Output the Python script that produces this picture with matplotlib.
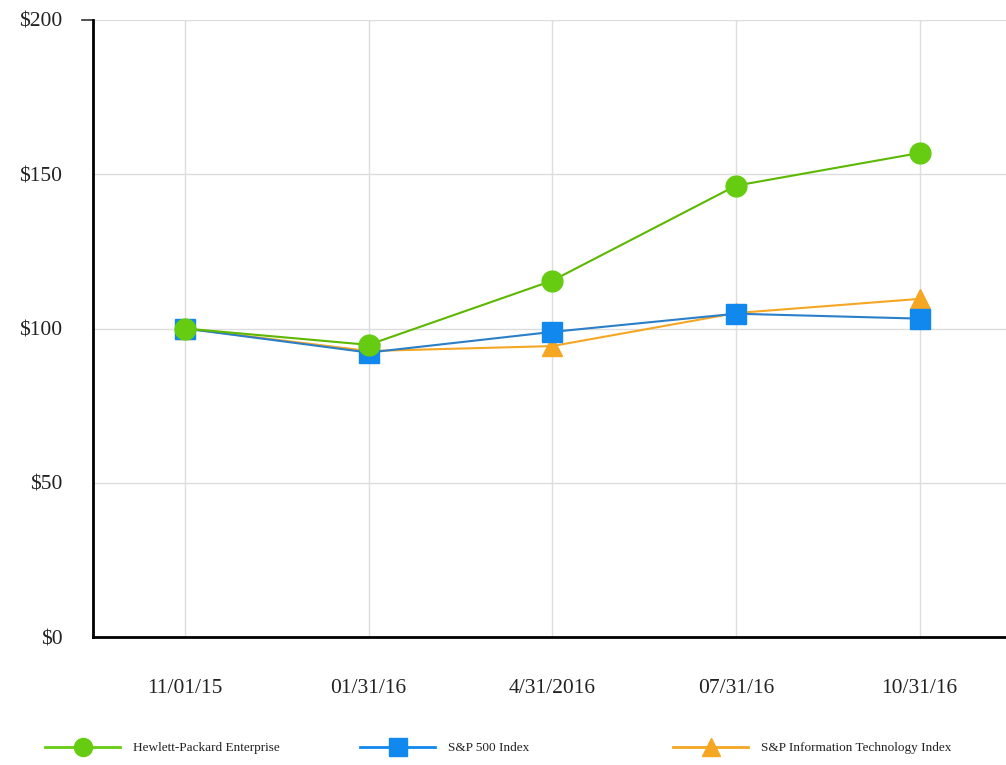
import matplotlib
matplotlib.use("Agg")
import matplotlib.pyplot as plt
from matplotlib.lines import Line2D

dates = ["11/01/15", "01/31/16", "4/31/2016", "07/31/16", "10/31/16"]
hpe = [100, 94.7, 115.5, 146.3, 156.9]
sp500 = [100, 92.2, 98.9, 104.8, 103.2]
spit = [100, 92.7, 94.3, 105.0, 109.6]
series_names = ["Hewlett-Packard Enterprise", "S&P 500 Index", "S&P Information Technology Index"]
yticks = [0, 50, 100, 150, 200]

plt.rcParams['font.family'] = ['Liberation Serif', 'DejaVu Serif']

fig = plt.figure(figsize=(10.06, 7.65), dpi=100)
ax = fig.add_axes([93/1006, (765-637)/765, 1 - 93/1006, (637-20)/765])

x = list(range(len(dates)))
green = "#66cc11"
blue = "#1188ee"
orange = "#f5a623"

l3, = ax.plot(x, spit, color=orange, lw=1.5, marker="^", ms=14, mec=orange, zorder=3)
l2, = ax.plot(x, sp500, color="#2a7fc8", lw=1.5, marker="s", ms=15, mfc=blue, mec=blue, zorder=4)
l1, = ax.plot(x, hpe, color="#5cb800", lw=1.5, marker="o", ms=15, mfc=green, mec=green, zorder=5)

ax.set_xlim(-0.5, 4.47)
ax.set_ylim(0, 200)
ax.set_yticks(yticks)
ax.set_yticklabels([f"${v}" for v in yticks], fontsize=15.5, color="#222222")
ax.set_xticks(x)
ax.set_xticklabels(dates, fontsize=15.5, color="#222222")
ax.grid(True, color="#dddddd", lw=1)
ax.set_axisbelow(True)
for s in ["top", "right"]:
    ax.spines[s].set_visible(False)
ax.spines["left"].set_linewidth(2)
ax.spines["bottom"].set_linewidth(2)
ax.tick_params(axis="x", length=0, pad=30)
ax.tick_params(axis="y", length=0, pad=22)
# small tick at the top of the value axis
ax.plot([-0.5 - 11/183.5, -0.5], [200, 200], color="#333333", lw=1.2, clip_on=False)

handles = [
    Line2D([], [], color=green, lw=2, marker="o", ms=13, mfc=green, mec=green),
    Line2D([], [], color=blue, lw=2, marker="s", ms=13, mfc=blue, mec=blue),
    Line2D([], [], color=orange, lw=2, marker="^", ms=13, mfc=orange, mec=orange),
]
positions = [45/1006, 360/1006, 673/1006]
for h, name, px in zip(handles, series_names, positions):
    fig.legend([h], [name], loc="center left", bbox_to_anchor=(px, 1 - 748/765),
               frameon=False, fontsize=9.5, handlelength=5.7, handletextpad=1.0,
               borderaxespad=0, borderpad=0, labelcolor="#222222")

fig.savefig("out.png", dpi=100)
